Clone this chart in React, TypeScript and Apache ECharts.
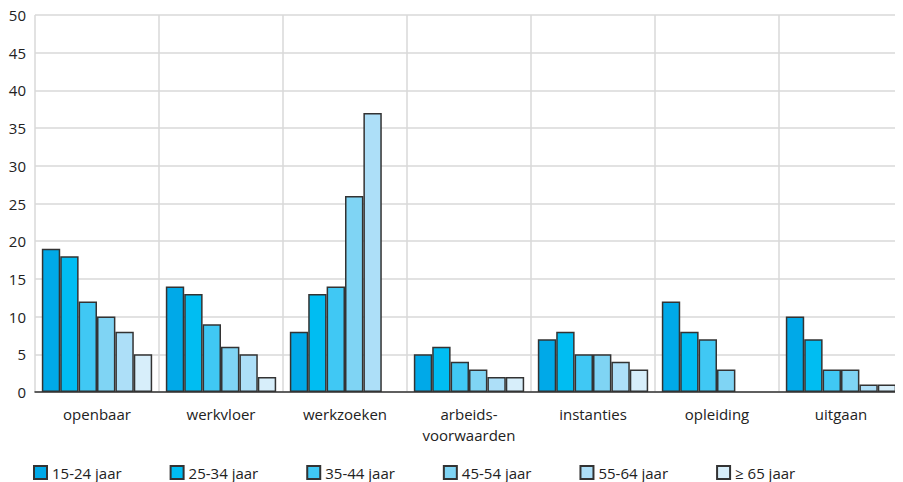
import React, { useEffect, useRef } from "react";
import * as echarts from "echarts";

const categories = ["openbaar", "werkvloer", "werkzoeken", "arbeids-\nvoorwaarden", "instanties", "opleiding", "uitgaan"];
const seriesNames = ["15-24 jaar", "25-34 jaar", "35-44 jaar", "45-54 jaar", "55-64 jaar", "≥ 65 jaar"];
const age15_24 = [19, 14, 8, 5, 7, 12, 10];
const age25_34 = [18, 13, 13, 6, 8, 8, 7];
const age35_44 = [12, 9, 14, 4, 5, 7, 3];
const age45_54 = [10, 6, 26, 3, 5, 3, 3];
const age55_64 = [8, 5, 37, 2, 4, null, 1];
const age65plus = [5, 2, null, 2, 3, null, 1];
const yTicks = [0, 5, 10, 15, 20, 25, 30, 35, 40, 45, 50];

const colors = ["#00a9e8", "#00bdf2", "#40c8f4", "#7fd4f4", "#addff8", "#d7eefa"];
const allSeries = [age15_24, age25_34, age35_44, age45_54, age55_64, age65plus];

export default function App() {
  const ref = useRef<HTMLDivElement>(null);
  useEffect(() => {
    const chart = echarts.init(ref.current!, null, { renderer: "svg" });
    const font = "'Open Sans', 'Noto Sans', sans-serif";
    chart.setOption({
      animation: false,
      textStyle: { fontFamily: font },
      grid: { left: 35, right: 0, top: 15, bottom: 90, containLabel: false },
      legend: {
        top: 460,
        left: 28,
        itemWidth: 13,
        itemHeight: 13,
        itemGap: 48,
        icon: "rect",
        textStyle: { fontSize: 15, color: "#222", fontFamily: font },
        data: seriesNames,
      },
      xAxis: {
        type: "category",
        data: categories,
        axisLine: { lineStyle: { color: "#333", width: 1.5 } },
        axisTick: { alignWithLabel: true, interval: 0, length: 6, lineStyle: { color: "#333", width: 1.5 } },
        axisLabel: { interval: 0, fontSize: 15, color: "#222", margin: 11, lineHeight: 21, fontFamily: font },
        splitLine: { show: true, interval: 0, lineStyle: { color: "#d9d9d9", width: 1.5 } },
      },
      yAxis: {
        type: "value",
        min: 0,
        max: 50,
        interval: 5,
        axisLine: { show: false },
        axisTick: { show: false },
        axisLabel: {
          fontSize: 15,
          color: "#222",
          margin: 9,
          fontFamily: font,
          formatter: (v: number) => (yTicks.includes(v) ? String(v) : ""),
        },
        splitLine: { lineStyle: { color: "#d9d9d9", width: 1.5 } },
      },
      series: allSeries.map((d, i) => ({
        name: seriesNames[i],
        type: "bar",
        data: d,
        barGap: "0%",
        barCategoryGap: "11%",
        itemStyle: { color: colors[i], borderColor: "#333", borderWidth: 1.5 },
      })),
    });
    return () => chart.dispose();
  }, []);
  return <div ref={ref} style={{ width: 903, height: 482, margin: "-8px -8px 0 -8px" }} />;
}
